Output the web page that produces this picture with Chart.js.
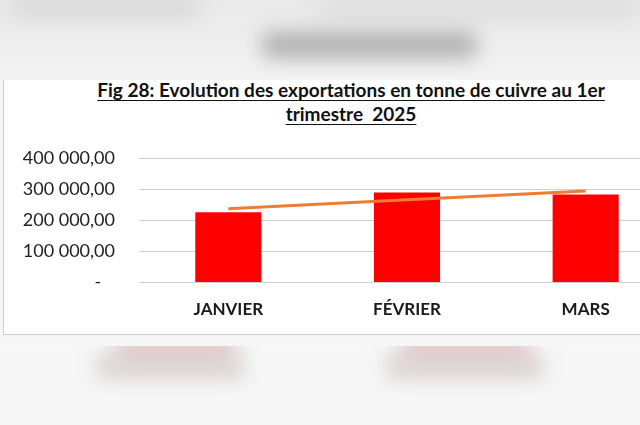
<!DOCTYPE html>
<html>
<head>
<meta charset="utf-8">
<script src="https://cdn.jsdelivr.net/npm/chart.js@4"></script>
<style>
  html, body { margin: 0; padding: 0; }
  body { width: 640px; height: 425px; overflow: hidden; position: relative; background: #f6f6f6; font-family: Lato, "Liberation Sans", sans-serif; }
  .haut { position: absolute; left: 0; top: 0; width: 640px; height: 80px; background: linear-gradient(#e9e9e9, #f3f3f3); overflow: hidden; }
  .flou { position: absolute; filter: blur(10px); border-radius: 8px; }
  .bas { position: absolute; left: 0; top: 346px; width: 640px; height: 79px; background: #f7f7f7; overflow: hidden; }
  .cadre { position: absolute; left: 3px; top: 80px; width: 700px; height: 254px; background: #fff; border-left: 1.5px solid #cfcfcf; border-bottom: 1.5px solid #cfcfcf; }
  .titre { position: absolute; left: -8px; top: -2px; width: 710px; text-align: center; font-weight: bold; font-size: 19px; line-height: 24px; color: #111; text-decoration: underline; text-underline-offset: 3px; white-space: pre; }
  .zone { position: absolute; left: 1px; top: 43px; width: 690px; height: 207px; }
</style>
</head>
<body>
<div class="haut">
  <div class="flou" style="left:10px;top:0px;width:190px;height:16px;background:#d4d4d4"></div>
  <div class="flou" style="left:320px;top:2px;width:320px;height:14px;background:#d9d9d9"></div>
  <div class="flou" style="left:262px;top:32px;width:215px;height:26px;background:#b0b0b0"></div>
</div>
<div class="bas">
  <div class="flou" style="left:95px;top:8px;width:150px;height:26px;background:#dcd4d4"></div>
  <div class="flou" style="left:385px;top:8px;width:160px;height:26px;background:#dcd4d4"></div>
  <div class="flou" style="left:115px;top:-6px;width:120px;height:14px;background:#d6b2b2"></div>
  <div class="flou" style="left:400px;top:-6px;width:130px;height:14px;background:#d6b2b2"></div>
</div>
<div class="cadre">
  <div class="titre">Fig 28: Evolution des exportations en tonne de cuivre au 1er
trimestre  2025</div>
  <div class="zone"><canvas id="graphique"></canvas></div>
</div>
<script>
// Données
const mois = ['JANVIER', 'FÉVRIER', 'MARS'];
const exportations = [225000, 288000, 282000];
const tendance = [236000, 265000, 293000];
const graduations = [0, 100000, 200000, 300000, 400000];

// Format "400 000,00"
function formatNombre(v) {
  if (v === 0) return '-   ';
  const entier = Math.round(v).toString().replace(/\B(?=(\d{3})+(?!\d))/g, ' ');
  return entier + ',00';
}

// Quadrillage prolongé jusqu'au bord droit (le graphique est rogné dans l'image)
const quadrillage = {
  id: 'quadrillage',
  beforeDatasetsDraw(chart) {
    const ctx = chart.ctx;
    const y = chart.scales.y;
    ctx.save();
    ctx.strokeStyle = '#d0d0d0';
    ctx.lineWidth = 1.2;
    graduations.forEach(v => {
      const py = Math.round(y.getPixelForValue(v)) + 0.5;
      ctx.beginPath();
      ctx.moveTo(chart.chartArea.left, py);
      ctx.lineTo(chart.width, py);
      ctx.stroke();
    });
    ctx.restore();
  }
};

document.addEventListener('DOMContentLoaded', function() {
  const ctx = document.getElementById('graphique').getContext('2d');
  new Chart(ctx, {
    type: 'bar',
    data: {
      labels: mois,
      datasets: [{
        type: 'line',
        data: tendance,
        borderColor: '#ED7D31',
        borderWidth: 3,
        pointRadius: 0,
        tension: 0,
        order: 0
      }, {
        data: exportations,
        backgroundColor: '#FF0000',
        categoryPercentage: 1,
        barPercentage: 0.37,
        order: 1
      }]
    },
    plugins: [quadrillage],
    options: {
      responsive: true,
      maintainAspectRatio: false,
      animation: false,
      layout: { padding: { top: 15, right: 20, bottom: 10, left: 0 } },
      plugins: { legend: { display: false }, tooltip: { enabled: false }, title: { display: false } },
      scales: {
        x: {
          grid: { display: false, drawTicks: false },
          border: { display: false },
          ticks: { color: '#1a1a1a', font: { family: 'Lato', size: 17, weight: 'bold' }, padding: 17 },
          afterFit(scale) { scale.height = 38; }
        },
        y: {
          min: 0,
          max: 400000,
          afterBuildTicks(scale) { scale.ticks = graduations.map(v => ({ value: v })); },
          grid: { display: false, drawTicks: false },
          border: { display: false },
          ticks: { color: '#222', font: { family: 'Lato', size: 18 }, padding: 24, callback: v => formatNombre(v) },
          afterFit(scale) { scale.width = 134; }
        }
      }
    }
  });
});
</script>
</body>
</html>
